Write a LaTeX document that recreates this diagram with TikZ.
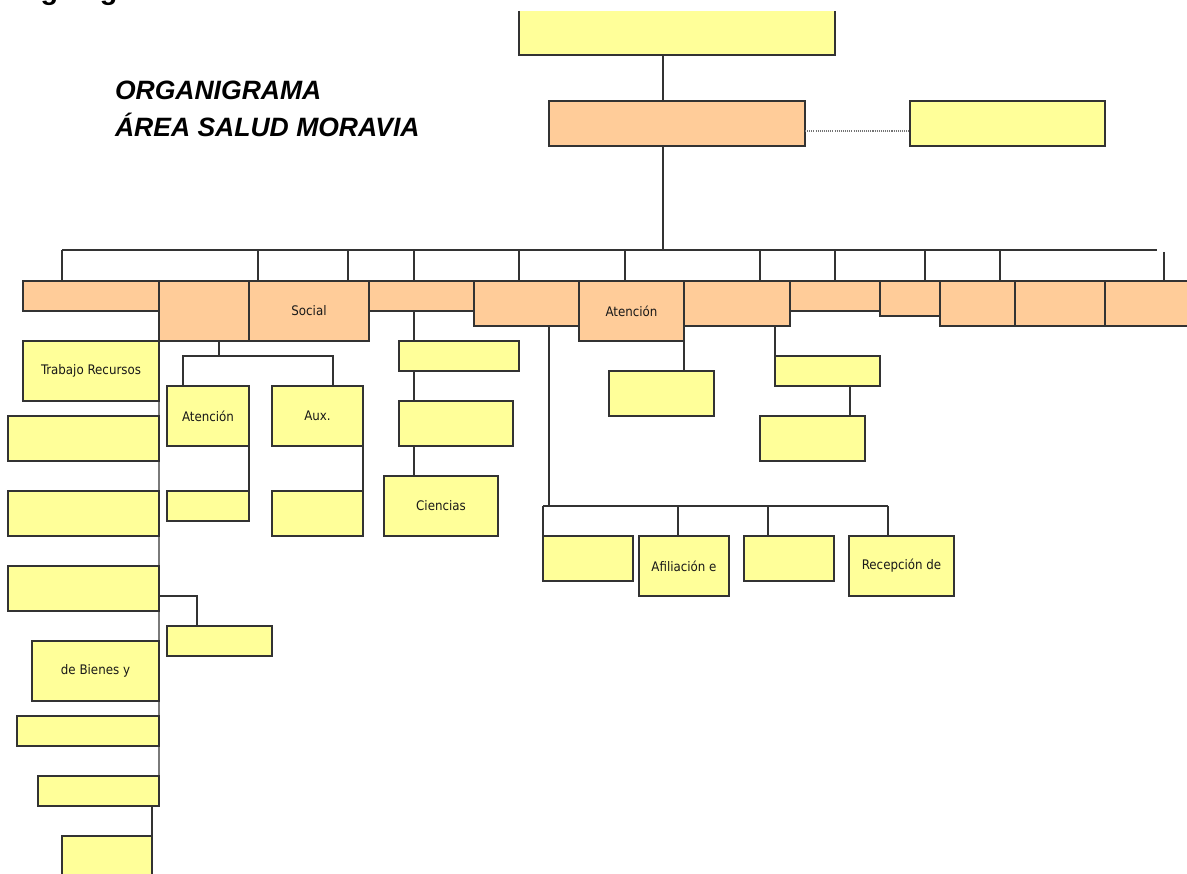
\documentclass[tikz,border=0pt]{standalone}
\usepackage{fontspec}
\setmainfont{DejaVu Sans Condensed}
\newfontfamily\titlefont{Liberation Sans}
\definecolor{yel}{HTML}{FFFF99}
\definecolor{ora}{HTML}{FFCC99}
\tikzset{
  box/.style={draw=black!80, line width=0.8pt, inner sep=0pt, outer sep=0pt,
              font=\fontsize{7.5}{9}\selectfont, text=black!90},
  ybox/.style={box, fill=yel},
  obox/.style={box, fill=ora},
  conn/.style={draw=black!80, line width=0.7pt},
  dotconn/.style={draw=black!55, line width=0.6pt, dash pattern=on 0.6pt off 0.6pt},
  ttl/.style={anchor=base west, inner sep=0pt, outer sep=0pt},
}
\newcommand\bx[7]{\node[#2, minimum width={(#5-#3)*0.02cm}, minimum height={(#6-#4)*0.02cm}] (#1) at ({(#3+#5)/2},{(#4+#6)/2}) {#7};}
\begin{document}
\begin{tikzpicture}[x=0.02cm,y=-0.02cm]
\useasboundingbox (0,0) rectangle (1187,874);
\clip (0,0) rectangle (1187,874);

% titles
\node[ttl, font=\titlefont\bfseries\fontsize{16.4}{18}\selectfont] (ttl0) at (7,-0.5) {Organigrama};
\node[ttl, font=\titlefont\bfseries\itshape\fontsize{15.1}{17}\selectfont] (ttl1) at (115,100) {ORGANIGRAMA};
\node[ttl, font=\titlefont\bfseries\itshape\fontsize{15.1}{17}\selectfont] (ttl2) at (115,137) {ÁREA SALUD MORAVIA};

% top
\node[fill=yel, inner sep=0pt, outer sep=0pt, minimum width={316*0.02cm}, minimum height={44*0.02cm}] (T0) at (677,33) {};
\draw[draw=black!80, line width=0.8pt] (T0.north west) |- (T0.south east) -- (T0.north east);
\bx{O1}{obox}{549}{101}{805}{146}{}
\bx{Y1}{ybox}{910}{101}{1105}{146}{}

% orange row
\bx{B1}{obox}{23}{281}{159}{311}{}
\bx{B2}{obox}{159}{281}{249}{341}{}
\bx{B3}{obox}{249}{281}{369}{341}{Social}
\bx{B4}{obox}{369}{281}{474}{311}{}
\bx{B5}{obox}{474}{281}{579}{326}{}
\bx{B6}{obox}{579}{281}{684}{341}{Atención}
\bx{B7}{obox}{684}{281}{790}{326}{}
\bx{B8}{obox}{790}{281}{880}{311}{}
\bx{B9}{obox}{880}{281}{940}{316}{}
\bx{B10}{obox}{940}{281}{1015}{326}{}
\bx{B11}{obox}{1015}{281}{1105}{326}{}
\bx{B12}{obox}{1105}{281}{1200}{326}{}

% left column
\bx{L1}{ybox}{23}{341}{159}{401}{Trabajo Recursos}
\bx{L2}{ybox}{8}{416}{159}{461}{}
\bx{L3}{ybox}{8}{491}{159}{536}{}
\bx{L4}{ybox}{8}{566}{159}{611}{}
\bx{L4b}{ybox}{167}{626}{272}{656}{}
\bx{L5}{ybox}{32}{641}{159}{701}{de Bienes y}
\bx{L6}{ybox}{17}{716}{159}{746}{}
\bx{L7}{ybox}{38}{776}{159}{806}{}
\bx{L8}{ybox}{62}{836}{152}{900}{}

% B2 children
\bx{C1}{ybox}{167}{386}{249}{446}{Atención}
\bx{C2}{ybox}{272}{386}{363}{446}{Aux.}
\bx{C1b}{ybox}{167}{491}{249}{521}{}
\bx{C2b}{ybox}{272}{491}{363}{536}{}

% B4 children
\bx{D1}{ybox}{399}{341}{519}{371}{}
\bx{D2}{ybox}{399}{401}{513}{446}{}
\bx{D3}{ybox}{384}{476}{498}{536}{Ciencias}

% B5 children
\bx{E1}{ybox}{543}{536}{633}{581}{}
\bx{E2}{ybox}{639}{536}{729}{596}{Afiliación e}
\bx{E3}{ybox}{744}{536}{834}{581}{}
\bx{E4}{ybox}{849}{536}{954}{596}{Recepción de}

% B6 / B7 children
\bx{F1}{ybox}{609}{371}{714}{416}{}
\bx{G1}{ybox}{775}{356}{880}{386}{}
\bx{G2}{ybox}{760}{416}{865}{461}{}

% ---- connectors ----
\coordinate (trunk) at (663,0);
\draw[conn] (T0.south -| trunk) -- (O1.north -| trunk);
\draw[dotconn] ([yshift=-0.15cm]O1.east) -- ([yshift=-0.15cm]Y1.west);

\coordinate (busL) at (62,250);
\coordinate (busR) at (1157,250);
\draw[conn] (O1.south -| trunk) -- (busR -| trunk);
\draw[conn] (busL) -- (busR);
\coordinate (d1) at (62,250);
\coordinate (d2) at (258,250);
\coordinate (d3) at (348,250);
\coordinate (d4) at (414,250);
\coordinate (d5) at (519,250);
\coordinate (d6) at (625,250);
\coordinate (d7) at (760,250);
\coordinate (d8) at (835,250);
\coordinate (d9) at (925,250);
\coordinate (d10) at (1000,250);
\coordinate (d11) at (1164,252);
\draw[conn] (d1) -- (d1 |- B1.north);
\draw[conn] (d2) -- (d2 |- B3.north);
\draw[conn] (d3) -- (d3 |- B3.north);
\draw[conn] (d4) -- (d4 |- B4.north);
\draw[conn] (d5) -- (d5 |- B5.north);
\draw[conn] (d6) -- (d6 |- B6.north);
\draw[conn] (d7) -- (d7 |- B7.north);
\draw[conn] (d8) -- (d8 |- B8.north);
\draw[conn] (d9) -- (d9 |- B9.north);
\draw[conn] (d10) -- (d10 |- B10.north);
\draw[conn] (d11) -- (d11 |- B12.north);

% left column spine
\draw[conn] (B1.south east) -- (L7.south east);
\draw[conn] (L7.south -| L8.east) -- (L8.north east);
\draw[conn] (L8.north east) -- (L8.south east);
\coordinate (k1) at (197,596);
\draw[conn] (L4.east |- k1) -- (k1) -- (k1 |- L4b.north);

% B2 children
\coordinate (b2) at (219,356);
\coordinate (c1) at (183,356);
\coordinate (c2) at (333,356);
\draw[conn] (b2 |- B2.south) -- (b2);
\draw[conn] (c1 |- C1.north) -- (c1) -- (c2) -- (c2 |- C2.north);
\draw[conn] (C1.south east) -- (C1b.north east);
\draw[conn] (C2.south east) -- (C2b.north east);

% B4 children
\coordinate (e4) at (414,0);
\draw[conn] (B4.south -| e4) -- (D1.north -| e4);
\draw[conn] (D1.south -| e4) -- (D2.north -| e4);
\draw[conn] (D2.south -| e4) -- (D3.north -| e4);

% B5 children
\coordinate (f5) at (549,506);
\coordinate (h1) at (543,506);
\coordinate (h2) at (678,506);
\coordinate (h3) at (768,506);
\coordinate (h4) at (888,506);
\draw[conn] (B5.south -| f5) -- (f5);
\draw[conn] (h1) -- (h4);
\draw[conn] (h1) -- (h1 |- E1.north);
\draw[conn] (h2) -- (h2 |- E2.north);
\draw[conn] (h3) -- (h3 |- E3.north);
\draw[conn] (h4) -- (h4 |- E4.north);

% B6 / B7 children
\draw[conn] (B6.south east) -- (F1.north -| B6.south east);
\draw[conn] (B7.south -| G1.north west) -- (G1.north west);
\coordinate (g2) at (850,0);
\draw[conn] (G1.south -| g2) -- (G2.north -| g2);
\end{tikzpicture}
\end{document}
